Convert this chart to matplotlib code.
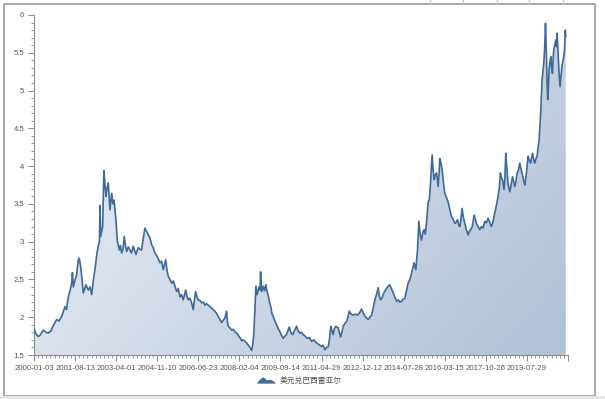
import numpy as np
import matplotlib
matplotlib.use('Agg')
import matplotlib.pyplot as plt
from matplotlib.colors import LinearSegmentedColormap
from matplotlib.patches import Polygon, Rectangle
from matplotlib.legend_handler import HandlerPatch
from matplotlib.ticker import MultipleLocator, FixedLocator

# USD/BRL exchange rate (trading-day index, rate)
day_index = [
    0, 20, 44, 61, 95, 123, 146, 174, 194, 232, 256, 283, 317, 332, 351, 368,
    385, 393, 402, 419, 434, 453, 463, 477, 491, 504, 531, 555, 572, 590, 608,
    623, 644, 657, 669, 675, 682, 702, 708, 715, 726, 736, 746, 759, 777, 794,
    808, 818, 838, 851, 872, 884, 896, 910, 923, 935, 947, 964, 981, 996, 1015,
    1029, 1042, 1066, 1083, 1100, 1118, 1134, 1149, 1168, 1186, 1203, 1219,
    1237, 1262, 1288, 1304, 1322, 1347, 1360, 1373, 1390, 1408, 1424, 1441,
    1459, 1475, 1492, 1508, 1526, 1551, 1564, 1577, 1594, 1612, 1628, 1652,
    1666, 1679, 1697, 1714, 1732, 1748, 1765, 1781, 1799, 1816, 1832, 1850,
    1867, 1884, 1901, 1918, 1935, 1952, 1969, 1977, 1986, 2003, 2021, 2037,
    2054, 2072, 2089, 2106, 2123, 2139, 2157, 2174, 2191, 2208, 2225, 2238,
    2248, 2259, 2269, 2279, 2286, 2300, 2310, 2317, 2327, 2344, 2356, 2371,
    2381, 2398, 2408, 2421, 2432, 2446, 2463, 2480, 2497, 2514, 2531, 2548,
    2565, 2582, 2596, 2609, 2626, 2644, 2662, 2685, 2701, 2718, 2736, 2752,
    2773, 2793, 2816, 2838, 2861, 2889, 2913, 2940, 2957, 2974, 2991, 3008,
    3020, 3035, 3046, 3059, 3071, 3087, 3110, 3123, 3135, 3148, 3162, 3179,
    3196, 3209, 3223, 3243, 3263, 3284, 3304, 3326, 3349, 3365, 3386, 3400,
    3417, 3434, 3452, 3468, 3485, 3502, 3519, 3531, 3544, 3560, 3577, 3598,
    3621, 3638, 3654, 3672, 3689, 3707, 3725, 3740, 3758, 3774, 3792, 3809,
    3825, 3843, 3860, 3873, 3886, 3904, 3921, 3935, 3948, 3962, 3975, 3989,
    4001, 4013, 4030, 4042, 4054, 4071, 4081, 4091, 4103, 4116, 4132, 4142,
    4149, 4160, 4173, 4185, 4200, 4218, 4234, 4252, 4269, 4285, 4303, 4318,
    4330, 4343, 4354, 4367, 4377, 4389, 4405, 4422, 4439, 4451, 4466, 4481,
    4500, 4512, 4524, 4540, 4558, 4575, 4592, 4609, 4626, 4643, 4660, 4677,
    4694, 4711, 4728, 4745, 4757, 4769, 4779, 4790, 4806, 4815, 4824, 4834,
    4847, 4865, 4878, 4893, 4904, 4916, 4928, 4940, 4954, 4967, 4981, 4995,
    5008, 5019, 5034, 5052, 5064, 5077, 5087, 5097, 5110, 5120, 5133, 5144,
    5154, 5165, 5174, 5182, 5189, 5195, 5204, 5212, 5221, 5230, 5240, 5246,
    5253, 5260, 5266, 5275, 5284, 5292, 5301, 5307, 5314, 5324, 5335, 5342,
    5348, 5355, 5362, 5370, 5379, 5388, 5396, 5406, 5417, 5425, 5432, 5437,
]
usd_brl = [
    1.85, 1.78, 1.745, 1.76, 1.83, 1.80, 1.79, 1.82, 1.88, 1.97, 1.95, 2.01,
    2.14, 2.10, 2.27, 2.35, 2.45, 2.59, 2.40, 2.49, 2.55, 2.76, 2.78, 2.67,
    2.50, 2.32, 2.43, 2.36, 2.40, 2.30, 2.50, 2.63, 2.85, 2.94, 3.00, 3.48,
    3.07, 3.20, 3.55, 3.94, 3.75, 3.60, 3.70, 3.78, 3.42, 3.64, 3.50, 3.55,
    3.29, 3.02, 2.89, 2.95, 2.85, 2.90, 3.07, 2.95, 2.87, 2.93, 2.89, 2.85,
    2.94, 2.88, 2.83, 2.92, 2.90, 2.89, 3.05, 3.18, 3.14, 3.09, 3.05, 2.96,
    2.92, 2.85, 2.80, 2.72, 2.74, 2.63, 2.76, 2.62, 2.54, 2.50, 2.45, 2.48,
    2.41, 2.34, 2.38, 2.27, 2.30, 2.23, 2.36, 2.28, 2.23, 2.25, 2.19, 2.10,
    2.34, 2.27, 2.23, 2.22, 2.19, 2.20, 2.16, 2.18, 2.16, 2.14, 2.12, 2.10,
    2.08, 2.05, 2.01, 1.97, 1.93, 1.96, 1.99, 2.08, 1.95, 1.88, 1.86, 1.83,
    1.84, 1.81, 1.79, 1.76, 1.73, 1.69, 1.70, 1.68, 1.66, 1.63, 1.60, 1.56,
    1.65, 1.79, 2.10, 2.41, 2.30, 2.32, 2.40, 2.36, 2.60, 2.34, 2.41, 2.35,
    2.43, 2.35, 2.27, 2.20, 2.14, 2.05, 2.01, 1.95, 1.90, 1.85, 1.81, 1.76,
    1.72, 1.75, 1.77, 1.82, 1.87, 1.80, 1.77, 1.82, 1.88, 1.82, 1.79, 1.80,
    1.77, 1.75, 1.72, 1.73, 1.68, 1.70, 1.66, 1.64, 1.61, 1.63, 1.57, 1.60,
    1.61, 1.70, 1.88, 1.82, 1.77, 1.85, 1.88, 1.86, 1.80, 1.74, 1.80, 1.88,
    1.92, 1.94, 2.00, 2.08, 2.04, 2.03, 2.04, 2.03, 2.05, 2.11, 2.06, 2.01,
    1.99, 1.97, 2.00, 2.03, 2.12, 2.23, 2.30, 2.39, 2.28, 2.23, 2.26, 2.32,
    2.37, 2.41, 2.43, 2.38, 2.32, 2.27, 2.21, 2.23, 2.20, 2.21, 2.24, 2.25,
    2.35, 2.45, 2.50, 2.58, 2.65, 2.72, 2.63, 2.89, 3.27, 3.10, 3.02, 3.12,
    3.16, 3.10, 3.24, 3.53, 3.55, 3.77, 4.15, 3.95, 3.82, 3.88, 3.91, 3.73,
    3.90, 4.10, 4.05, 3.95, 3.80, 3.64, 3.58, 3.53, 3.42, 3.33, 3.30, 3.24,
    3.26, 3.29, 3.22, 3.20, 3.32, 3.44, 3.33, 3.24, 3.15, 3.09, 3.14, 3.16,
    3.20, 3.35, 3.30, 3.24, 3.20, 3.16, 3.20, 3.18, 3.27, 3.25, 3.31, 3.25,
    3.20, 3.27, 3.38, 3.48, 3.60, 3.70, 3.91, 3.85, 3.82, 3.69, 3.85, 4.17,
    3.98, 3.77, 3.66, 3.75, 3.86, 3.80, 3.73, 3.80, 3.91, 3.95, 4.04, 3.95,
    3.88, 3.80, 3.75, 3.90, 4.13, 4.08, 4.04, 4.10, 4.17, 4.08, 4.04, 4.10,
    4.13, 4.25, 4.35, 4.55, 4.74, 4.95, 5.14, 5.25, 5.36, 5.55, 5.89, 5.45,
    5.10, 4.88, 5.05, 5.27, 5.38, 5.45, 5.30, 5.23, 5.40, 5.54, 5.60, 5.67,
    5.58, 5.76, 5.60, 5.40, 5.20, 5.05, 5.18, 5.30, 5.38, 5.45, 5.55, 5.80,
    5.72,
]

tick_labels = ['2000-01-03', '2001-08-13', '2003-04-01', '2004-11-10',
               '2006-06-23', '2008-02-04', '2009-09-14', '2011-04-29',
               '2012-12-12', '2014-07-28', '2016-03-15', '2017-10-26',
               '2019-07-29', '']
label_step = 420          # trading days between labelled ticks
series_name = '美元兑巴西雷亚尔'

line_color = '#3d6a9a'
axis_color = '#8a8a8a'
text_color = '#555555'

x = np.array(day_index)
y = np.array(usd_brl)
x_end = label_step * (len(tick_labels) - 1)

fig = plt.figure(figsize=(6.05, 3.99), dpi=100)
ax = fig.add_axes([34 / 605, 1 - 355 / 399, 534 / 605, 340 / 399])

# gradient area fill, clipped to the area under the line
fill = ax.fill_between(x, y, 1.5, facecolor='none', edgecolor='none')
cmap = LinearSegmentedColormap.from_list('area', ['#eff2f7', '#b1c1d6'])
gx, gy = np.meshgrid(np.linspace(0, 1, 256), np.linspace(0, 1, 256))
grad = 0.65 * gx + 0.35 * gy
img = ax.imshow(grad, cmap=cmap, extent=[0, x_end, 1.5, 6], origin='upper',
                aspect='auto', vmin=0, vmax=1, zorder=1)
img.set_clip_path(fill.get_paths()[0], transform=ax.transData)

ax.plot(x, y, color=line_color, lw=1.2, zorder=3)

ax.set_xlim(0, x_end)
ax.set_ylim(1.5, 6)

ax.xaxis.set_major_locator(FixedLocator(np.arange(len(tick_labels)) * label_step))
ax.set_xticklabels(tick_labels)
ax.xaxis.set_minor_locator(MultipleLocator(label_step / 10))
ax.yaxis.set_major_locator(MultipleLocator(0.5))
ax.yaxis.set_minor_locator(MultipleLocator(0.1))
ax.yaxis.set_major_formatter(plt.FuncFormatter(lambda v, p: f'{v:g}'))

for side in ['top', 'right']:
    ax.spines[side].set_visible(False)
for side in ['left', 'bottom']:
    ax.spines[side].set_color(axis_color)
    ax.spines[side].set_linewidth(0.8)
ax.tick_params(which='major', length=4, width=0.7, color=axis_color,
               labelsize=5.6, labelcolor=text_color, pad=3)
ax.tick_params(which='minor', length=2, width=0.6, color=axis_color)
for lab in ax.get_xticklabels() + ax.get_yticklabels():
    lab.set_family('Liberation Sans')
ax.set_facecolor('none')


class MountainHandler(HandlerPatch):
    def create_artists(self, legend, orig_handle, xdescent, ydescent,
                       width, height, fontsize, trans):
        shape = np.array([[0, 0], [0.15, 0.55], [0.35, 1.0], [0.55, 0.5],
                          [0.75, 0.6], [1.0, 0.15], [1.0, 0]])
        pts = shape * [width, height] - [xdescent, ydescent]
        poly = Polygon(pts, closed=True, facecolor=line_color,
                       edgecolor='none', transform=trans)
        return [poly]


handle = Polygon([[0, 0]], facecolor=line_color)
fig.legend([handle], [series_name], loc='center',
           bbox_to_anchor=(0.495, 1 - 381 / 399), frameon=False,
           handler_map={Polygon: MountainHandler()},
           handlelength=2.4, handleheight=0.9, handletextpad=0.6,
           prop={'family': ['Noto Sans CJK SC', 'DejaVu Sans'], 'size': 5.6},
           labelcolor=text_color)

# screenshot frame around the chart
fig.add_artist(Rectangle((4 / 605, 1 - 396 / 399), 591 / 605, 392 / 399,
                         transform=fig.transFigure, fill=False,
                         edgecolor='#9a9a9a', lw=1.2))
fig.add_artist(Rectangle((0, 0), 1, 3 / 399, transform=fig.transFigure,
                         facecolor='#e6e6e6', edgecolor='none'))
for px in [430, 463, 497, 529, 563]:
    fig.add_artist(plt.Line2D([px / 605, px / 605], [1 - 4 / 399, 1],
                              transform=fig.transFigure, color='#c8c8c8', lw=0.8))

fig.savefig('out.png', dpi=100)
